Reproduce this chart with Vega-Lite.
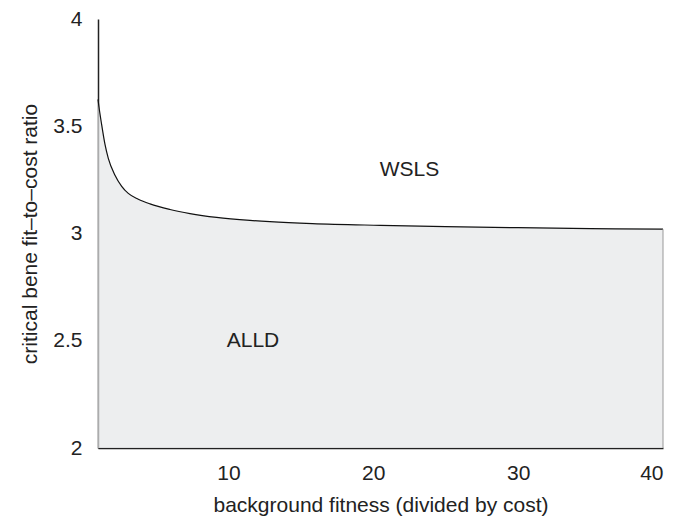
{
  "$schema": "https://vega.github.io/schema/vega-lite/v6.json",
  "width": 565,
  "height": 429,
  "autosize": {"type": "none"},
  "padding": {"left": 98, "top": 19, "right": 25, "bottom": 69},
  "background": "white",
  "config": {
    "view": {"stroke": null},
    "font": "Liberation Sans",
    "axis": {"grid": false, "labelFont": "Liberation Sans", "titleFont": "Liberation Sans", "labelColor": "#222", "titleColor": "#222", "titleFontWeight": "normal", "domainColor": "#222"}
  },
  "datasets": {
    "curve": [
      {"x": 1.0, "y": 3.625},
      {"x": 1.02, "y": 3.614},
      {"x": 1.255, "y": 3.506},
      {"x": 1.483, "y": 3.415},
      {"x": 1.711, "y": 3.35},
      {"x": 2.173, "y": 3.272},
      {"x": 2.636, "y": 3.22},
      {"x": 3.09, "y": 3.187},
      {"x": 3.78, "y": 3.16},
      {"x": 4.59, "y": 3.138},
      {"x": 5.97, "y": 3.112},
      {"x": 7.35, "y": 3.093},
      {"x": 9.19, "y": 3.075},
      {"x": 11.49, "y": 3.061},
      {"x": 12.87, "y": 3.055},
      {"x": 15.8, "y": 3.046},
      {"x": 20.5, "y": 3.038},
      {"x": 25.0, "y": 3.032},
      {"x": 30.0, "y": 3.027},
      {"x": 35.0, "y": 3.023},
      {"x": 40.0, "y": 3.02}
    ],
    "labels": [
      {"x": 22.5, "y": 3.296, "text": "WSLS"},
      {"x": 11.7, "y": 2.5, "text": "ALLD"}
    ]
  },
  "layer": [
    {
      "data": {"name": "curve"},
      "mark": {"type": "area", "fill": "#e6e7e8", "interpolate": "monotone", "line": {"color": "#111", "strokeWidth": 1.2}},
      "encoding": {
        "x": {"field": "x", "type": "quantitative", "scale": {"domain": [1, 40], "nice": false},
          "axis": {"values": [10, 20, 30, 40], "ticks": false, "labelFontSize": 21, "labelPadding": 14, "title": "background fitness (divided by cost)", "titleFontSize": 21, "titlePadding": 11, "domainWidth": 1.5}},
        "y": {"field": "y", "type": "quantitative", "scale": {"domain": [2, 4], "nice": false, "zero": false},
          "axis": {"values": [2, 2.5, 3, 3.5, 4], "format": "~g", "ticks": false, "labelFontSize": 21, "labelPadding": 16, "title": "critical bene fit–to–cost ratio", "titleFontSize": 21, "titlePadding": 12, "domainWidth": 1.5}},
        "y2": {"datum": 2}
      }
    },
    {
      "data": {"values": [{"x": 40, "y": 3.02}]},
      "mark": {"type": "rule", "color": "#999", "strokeWidth": 1},
      "encoding": {
        "x": {"field": "x", "type": "quantitative"},
        "y": {"field": "y", "type": "quantitative"},
        "y2": {"datum": 2}
      }
    },
    {
      "data": {"name": "labels"},
      "mark": {"type": "text", "fontSize": 21, "color": "#222", "baseline": "middle", "align": "center"},
      "encoding": {
        "x": {"field": "x", "type": "quantitative"},
        "y": {"field": "y", "type": "quantitative"},
        "text": {"field": "text"}
      }
    }
  ]
}
